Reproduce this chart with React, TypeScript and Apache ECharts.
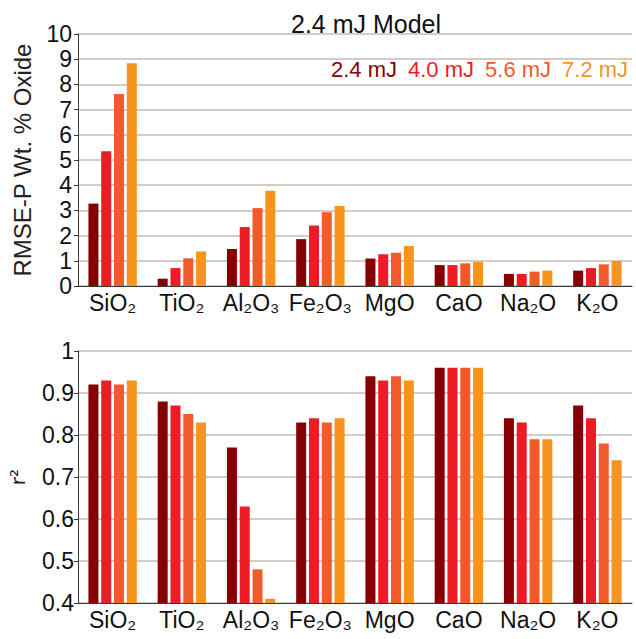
import React, { useEffect, useRef } from "react";
import * as echarts from "echarts";

const categories = ["SiO₂", "TiO₂", "Al₂O₃", "Fe₂O₃", "MgO", "CaO", "Na₂O", "K₂O"];
const energies = ["2.4 mJ", "4.0 mJ", "5.6 mJ", "7.2 mJ"];
const colors = ["#860000", "#ED1C24", "#F15A29", "#F7941D"];

const rmse24 = [3.27, 0.29, 1.47, 1.86, 1.09, 0.83, 0.48, 0.61];
const rmse40 = [5.35, 0.71, 2.34, 2.4, 1.26, 0.83, 0.48, 0.71];
const rmse56 = [7.62, 1.1, 3.09, 2.93, 1.32, 0.9, 0.57, 0.86];
const rmse72 = [8.84, 1.37, 3.78, 3.18, 1.59, 0.96, 0.61, 0.99];

const r2_24 = [0.92, 0.88, 0.77, 0.83, 0.94, 0.96, 0.84, 0.87];
const r2_40 = [0.93, 0.87, 0.63, 0.84, 0.93, 0.96, 0.83, 0.84];
const r2_56 = [0.92, 0.85, 0.48, 0.83, 0.94, 0.96, 0.79, 0.78];
const r2_72 = [0.93, 0.83, 0.41, 0.84, 0.93, 0.96, 0.79, 0.74];

const rmseSeries = [rmse24, rmse40, rmse56, rmse72];
const r2Series = [r2_24, r2_40, r2_56, r2_72];

const FONT = "'Liberation Sans', Arial, Helvetica, sans-serif";

export default function App() {
  const ref = useRef<HTMLDivElement>(null);
  useEffect(() => {
    if (!ref.current) return;
    const chart = echarts.init(ref.current, null, { renderer: "svg" });
    const gridColor = "#C6BCB4";
    const axisColor = "#3a3a3a";
    const xAxisCommon = {
      type: "category",
      data: categories,
      axisTick: { show: false },
      axisLine: { lineStyle: { color: axisColor, width: 1 } },
      axisLabel: { color: "#111", fontSize: 23, fontFamily: FONT, margin: 5, interval: 0 },
    };
    const series: any[] = [];
    rmseSeries.forEach((d, i) => {
      series.push({
        name: energies[i],
        type: "bar",
        xAxisIndex: 0,
        yAxisIndex: 0,
        data: d,
        barWidth: 10,
        barGap: "28%",
        itemStyle: { color: colors[i] },
      });
    });
    r2Series.forEach((d, i) => {
      series.push({
        name: energies[i],
        type: "bar",
        xAxisIndex: 1,
        yAxisIndex: 1,
        data: d,
        barWidth: 10,
        barGap: "28%",
        itemStyle: { color: colors[i] },
      });
    });
    chart.setOption({
      animation: false,
      backgroundColor: "#fff",
      title: {
        text: "2.4 mJ Model",
        left: 286,
        top: 6,
        textStyle: { fontSize: 25, fontWeight: "normal", color: "#111", fontFamily: FONT },
      },
      legend: {
        data: energies.map((e, i) => ({ name: e, textStyle: { color: colors[i] } })),
        left: 326,
        top: 58,
        width: 320,
        padding: 0,
        icon: "rect",
        itemWidth: 0,
        itemHeight: 0,
        itemGap: 6,
        selectedMode: false,
        textStyle: { fontSize: 22, fontFamily: FONT },
      },
      grid: [
        { left: 78, right: 4, top: 34, bottom: 353, containLabel: false },
        { left: 78, right: 4, top: 351, bottom: 36, containLabel: false },
      ],
      xAxis: [
        { ...xAxisCommon, gridIndex: 0 },
        { ...xAxisCommon, gridIndex: 1 },
      ],
      yAxis: [
        {
          type: "value",
          gridIndex: 0,
          min: 0,
          max: 10,
          interval: 1,
          name: "RMSE-P Wt. % Oxide",
          nameLocation: "middle",
          nameRotate: 90,
          nameGap: 44,
          nameTextStyle: { fontSize: 24, color: "#222", fontFamily: FONT },
          axisLine: { show: true, lineStyle: { color: axisColor } },
          axisTick: { show: true, length: 4, lineStyle: { color: axisColor } },
          axisLabel: { color: "#111", fontSize: 23, fontFamily: FONT, margin: 6 },
          splitLine: { lineStyle: { color: gridColor, width: 1.5 } },
        },
        {
          type: "value",
          gridIndex: 1,
          min: 0.4,
          max: 1,
          interval: 0.1,
          name: "r²",
          nameLocation: "middle",
          nameRotate: 90,
          nameGap: 50,
          nameTextStyle: { fontSize: 20, color: "#222", fontFamily: "'DejaVu Sans', sans-serif" },
          axisLine: { show: true, lineStyle: { color: axisColor } },
          axisTick: { show: true, length: 4, lineStyle: { color: axisColor } },
          axisLabel: {
            color: "#111",
            fontSize: 23,
            fontFamily: FONT,
            margin: 4,
            formatter: (v: number) => String(Math.round(v * 10) / 10),
          },
          splitLine: { lineStyle: { color: gridColor, width: 1.5 } },
        },
      ],
      series,
    });
    return () => chart.dispose();
  }, []);
  return (
    <div
      ref={ref}
      style={{ position: "fixed", left: 0, top: 0, width: 636, height: 639, background: "#fff" }}
    />
  );
}
